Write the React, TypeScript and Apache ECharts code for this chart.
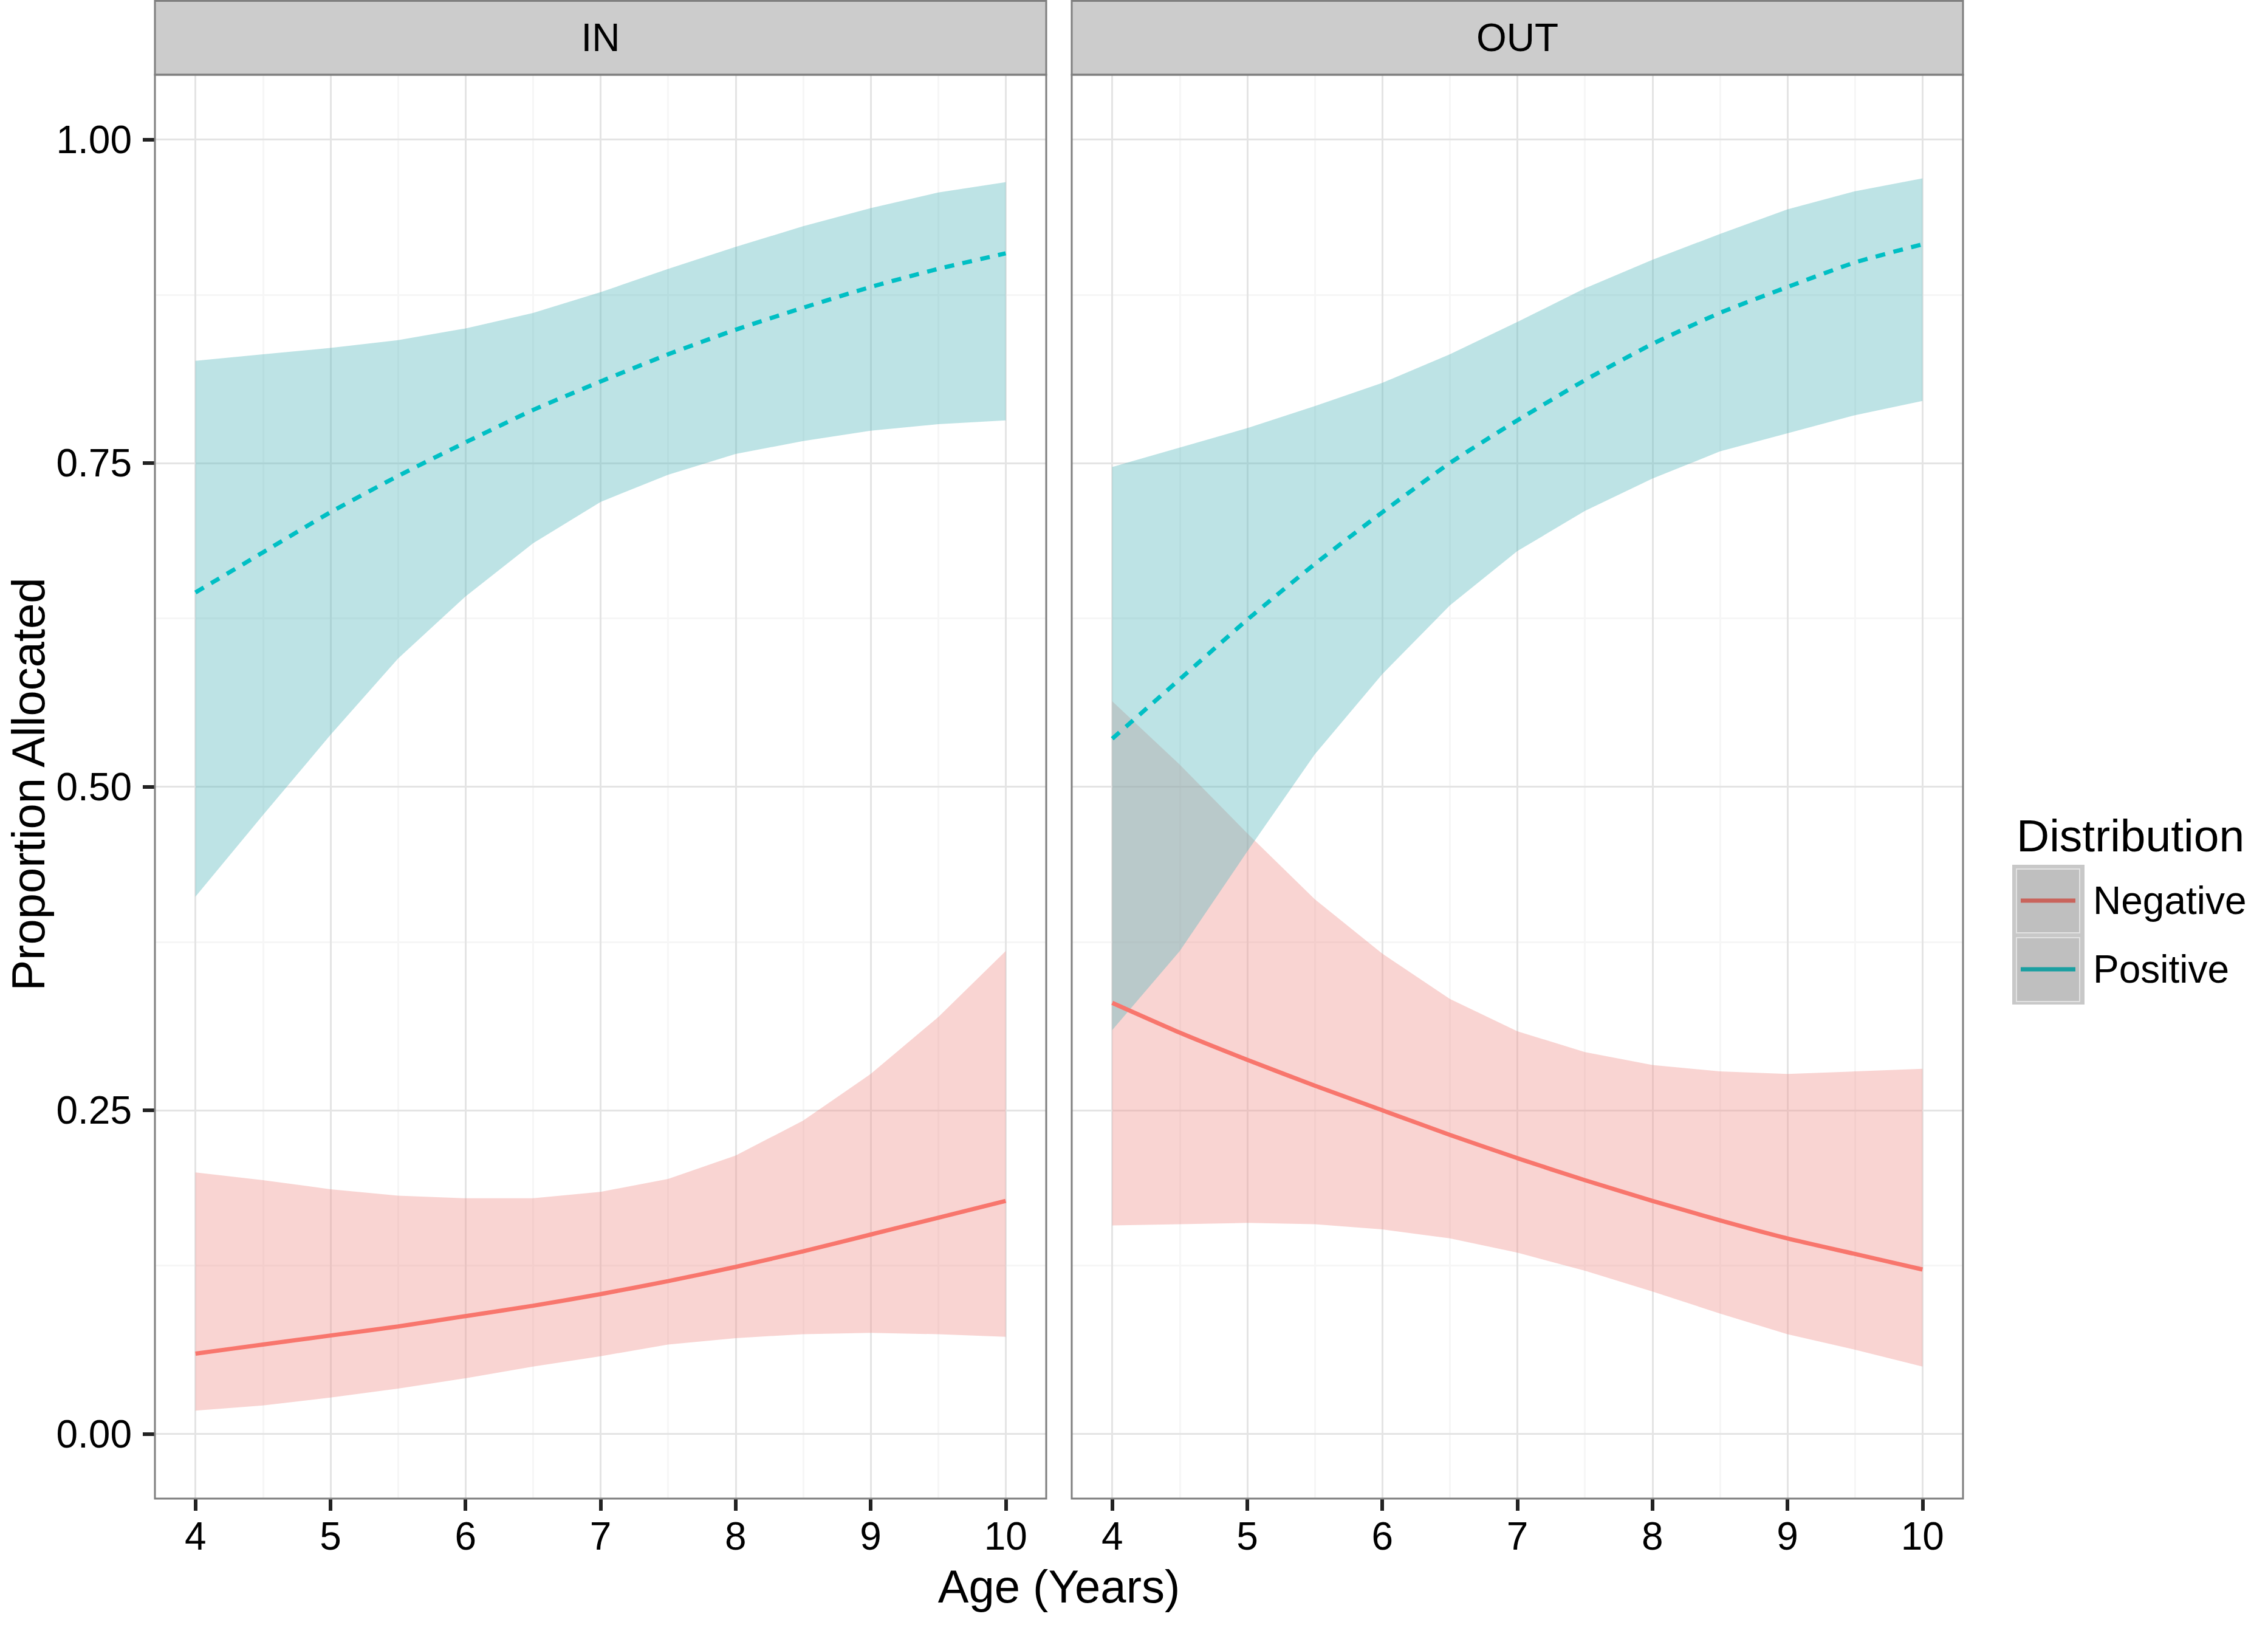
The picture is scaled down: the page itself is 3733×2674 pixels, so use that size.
import React, { useEffect, useRef } from "react";
import * as echarts from "echarts";

const PANELS = ["IN", "OUT"];
const GROUPS = ["Negative", "Positive"];
const AGES = [4, 4.5, 5, 5.5, 6, 6.5, 7, 7.5, 8, 8.5, 9, 9.5, 10];
const X_TICKS = [4, 5, 6, 7, 8, 9, 10];
const X_MINOR = [4.5, 5.5, 6.5, 7.5, 8.5, 9.5];
const Y_TICKS = [0, 0.25, 0.5, 0.75, 1];
const Y_MINOR = [0.125, 0.375, 0.625, 0.875];

// IN panel
const IN_POS_FIT = [0.650, 0.681, 0.712, 0.740, 0.766, 0.791, 0.813, 0.834, 0.853, 0.870, 0.886, 0.900, 0.912];
const IN_POS_UP = [0.829, 0.834, 0.839, 0.845, 0.854, 0.866, 0.882, 0.900, 0.917, 0.933, 0.947, 0.959, 0.967];
const IN_POS_LO = [0.415, 0.478, 0.540, 0.599, 0.647, 0.688, 0.720, 0.741, 0.757, 0.767, 0.775, 0.780, 0.783];
const IN_NEG_FIT = [0.062, 0.069, 0.076, 0.083, 0.091, 0.099, 0.108, 0.118, 0.129, 0.141, 0.154, 0.167, 0.180];
const IN_NEG_UP = [0.202, 0.196, 0.189, 0.184, 0.182, 0.182, 0.187, 0.197, 0.215, 0.242, 0.278, 0.322, 0.373];
const IN_NEG_LO = [0.018, 0.022, 0.028, 0.035, 0.043, 0.052, 0.060, 0.069, 0.074, 0.077, 0.078, 0.077, 0.075];

// OUT panel
const OUT_POS_FIT = [0.537, 0.583, 0.629, 0.672, 0.712, 0.750, 0.783, 0.814, 0.842, 0.866, 0.886, 0.905, 0.919];
const OUT_POS_UP = [0.747, 0.762, 0.777, 0.794, 0.812, 0.834, 0.859, 0.885, 0.907, 0.927, 0.946, 0.960, 0.970];
const OUT_POS_LO = [0.312, 0.373, 0.450, 0.525, 0.587, 0.640, 0.682, 0.713, 0.738, 0.759, 0.773, 0.787, 0.798];
const OUT_NEG_FIT = [0.333, 0.310, 0.289, 0.269, 0.250, 0.231, 0.213, 0.196, 0.180, 0.165, 0.151, 0.139, 0.127];
const OUT_NEG_UP = [0.566, 0.517, 0.464, 0.413, 0.371, 0.336, 0.311, 0.295, 0.285, 0.280, 0.278, 0.280, 0.282];
const OUT_NEG_LO = [0.161, 0.162, 0.163, 0.162, 0.158, 0.151, 0.140, 0.126, 0.110, 0.093, 0.077, 0.065, 0.052];

const FONT = '"Liberation Sans", Arial, Helvetica, sans-serif';
const W = 3733;
const H = 2674;
const GRID_TOP = 123;
const GRID_H = 2343;
const GRID_W = 1467;
const GRID_LEFTS = [255, 1764];

const LINE_COLORS = ["#F8766D", "#00BFC4"];
const RIBBON_FILLS = ["rgba(240,148,143,0.4)", "rgba(90,185,190,0.4)"];

function ribbon(idx: number, upper: number[], lower: number[], fill: string) {
  return {
    type: "custom",
    xAxisIndex: idx,
    yAxisIndex: idx,
    z: 2,
    silent: true,
    data: [[AGES[0], lower[0]]],
    renderItem: (_params: any, api: any) => {
      const pts: number[][] = [];
      for (let i = 0; i < AGES.length; i++) pts.push(api.coord([AGES[i], upper[i]]));
      for (let i = AGES.length - 1; i >= 0; i--) pts.push(api.coord([AGES[i], lower[i]]));
      return { type: "polygon", shape: { points: pts }, style: { fill } };
    },
  };
}

function fitLine(idx: number, name: string, fit: number[], color: string, dashed: boolean) {
  return {
    type: "line",
    name,
    xAxisIndex: idx,
    yAxisIndex: idx,
    z: 3,
    silent: true,
    symbol: "none",
    showSymbol: false,
    smooth: 0.2,
    data: AGES.map((a, i) => [a, fit[i]]),
    lineStyle: { color, width: 7, type: dashed ? [16, 14] : "solid", cap: "butt" },
  };
}

function gridLines(idx: number) {
  const major = { color: "#e4e4e4", width: 3, type: "solid" };
  const minor = { color: "#f6f6f6", width: 3, type: "solid" };
  return {
    type: "line",
    xAxisIndex: idx,
    yAxisIndex: idx,
    z: 1,
    silent: true,
    symbol: "none",
    data: [],
    markLine: {
      z: 1,
      silent: true,
      symbol: "none",
      animation: false,
      label: { show: false },
      data: [
        ...Y_MINOR.map((v) => ({ yAxis: v, lineStyle: minor })),
        ...X_MINOR.map((v) => ({ xAxis: v, lineStyle: minor })),
        ...Y_TICKS.map((v) => ({ yAxis: v, lineStyle: major })),
        ...X_TICKS.map((v) => ({ xAxis: v, lineStyle: major })),
      ],
    },
  };
}

function textEl(x: number, y: number, text: string, size: number, extra: any = {}) {
  return {
    type: "text",
    x,
    y,
    z: 20,
    ...extra,
    style: {
      text,
      fill: "#000",
      fontSize: size,
      fontFamily: FONT,
      align: extra.align || "center",
      textAlign: extra.align || "center",
      verticalAlign: "middle",
      textVerticalAlign: "middle",
    },
  };
}

export default function App() {
  const ref = useRef<HTMLDivElement>(null);
  useEffect(() => {
    if (!ref.current) return;
    const chart = echarts.init(ref.current, null, { renderer: "svg", width: W, height: H });

    const grids = GRID_LEFTS.map((left) => ({
      left,
      top: GRID_TOP,
      width: GRID_W,
      height: GRID_H,
      show: true,
      backgroundColor: "#ffffff",
      borderWidth: 0,
    }));

    const xAxes = PANELS.map((_, i) => ({
      type: "value",
      gridIndex: i,
      position: "bottom",
      min: 3.7,
      max: 10.3,
      axisLine: { show: false, onZero: false },
      splitLine: { show: false },
      axisTick: { show: true, customValues: X_TICKS, length: 20, lineStyle: { color: "#222", width: 6 } },
      axisLabel: {
        show: true,
        customValues: X_TICKS,
        fontSize: 64,
        fontFamily: FONT,
        color: "#000",
        margin: 30,
        formatter: (v: number) => String(v),
      },
    }));

    const yAxes = PANELS.map((_, i) => ({
      type: "value",
      gridIndex: i,
      position: "left",
      min: -0.05,
      max: 1.05,
      axisLine: { show: false, onZero: false },
      splitLine: { show: false },
      axisTick: { show: i === 0, customValues: Y_TICKS, length: 20, lineStyle: { color: "#222", width: 6 } },
      axisLabel: {
        show: i === 0,
        customValues: Y_TICKS,
        fontSize: 64,
        fontFamily: FONT,
        color: "#000",
        margin: 38,
        formatter: (v: number) => v.toFixed(2),
      },
    }));

    const panelData = [
      { neg: [IN_NEG_FIT, IN_NEG_UP, IN_NEG_LO], pos: [IN_POS_FIT, IN_POS_UP, IN_POS_LO] },
      { neg: [OUT_NEG_FIT, OUT_NEG_UP, OUT_NEG_LO], pos: [OUT_POS_FIT, OUT_POS_UP, OUT_POS_LO] },
    ];

    const series: any[] = [];
    panelData.forEach((p, i) => {
      series.push(gridLines(i));
      series.push(ribbon(i, p.neg[1], p.neg[2], RIBBON_FILLS[0]));
      series.push(ribbon(i, p.pos[1], p.pos[2], RIBBON_FILLS[1]));
      series.push(fitLine(i, GROUPS[0], p.neg[0], LINE_COLORS[0], false));
      series.push(fitLine(i, GROUPS[1], p.pos[0], LINE_COLORS[1], true));
    });

    const graphic: any[] = [];
    GRID_LEFTS.forEach((left, i) => {
      graphic.push({
        type: "rect",
        z: 10,
        shape: { x: left, y: 1.5, width: GRID_W, height: GRID_TOP - 1.5 },
        style: { fill: "#cccccc", stroke: "#7f7f7f", lineWidth: 3 },
      });
      graphic.push({
        type: "rect",
        z: 11,
        shape: { x: left, y: GRID_TOP, width: GRID_W, height: GRID_H },
        style: { fill: "none", stroke: "#7f7f7f", lineWidth: 3 },
      });
      graphic.push(textEl(left + GRID_W / 2, 62, PANELS[i], 64, {}));
    });
    // axis titles
    graphic.push(textEl((GRID_LEFTS[0] + GRID_LEFTS[1] + GRID_W) / 2, 2610, "Age (Years)", 76));
    graphic.push(textEl(46, GRID_TOP + GRID_H / 2 - 4, "Proportion Allocated", 76, { rotation: Math.PI / 2 }));
    // legend
    graphic.push(textEl(3319, 1375, "Distribution", 75, { align: "left" }));
    graphic.push({ type: "rect", z: 10, shape: { x: 3312, y: 1423, width: 119, height: 230 }, style: { fill: "#c8c8c8" } });
    const keyTops = [1430, 1543];
    const legendLineColors = ["#C9645C", "#1A9FA1"];
    GROUPS.forEach((g, i) => {
      graphic.push({
        type: "rect",
        z: 11,
        shape: { x: 3319, y: keyTops[i], width: 104, height: 105 },
        style: { fill: "#bfbfbf", stroke: "#e2e2e2", lineWidth: 2 },
      });
      const cy = keyTops[i] + 52;
      graphic.push({
        type: "line",
        z: 12,
        shape: { x1: 3326, y1: cy, x2: 3416, y2: cy },
        style: { stroke: legendLineColors[i], lineWidth: 7 },
      });
      graphic.push(textEl(3445, cy, g, 64, { align: "left" }));
    });

    chart.setOption({
      animation: false,
      backgroundColor: "#ffffff",
      grid: grids,
      xAxis: xAxes,
      yAxis: yAxes,
      series,
      graphic,
    });
    return () => chart.dispose();
  }, []);

  return (
    <div
      ref={ref}
      style={{ position: "absolute", left: 0, top: 0, width: W, height: H, background: "#fff" }}
    />
  );
}
